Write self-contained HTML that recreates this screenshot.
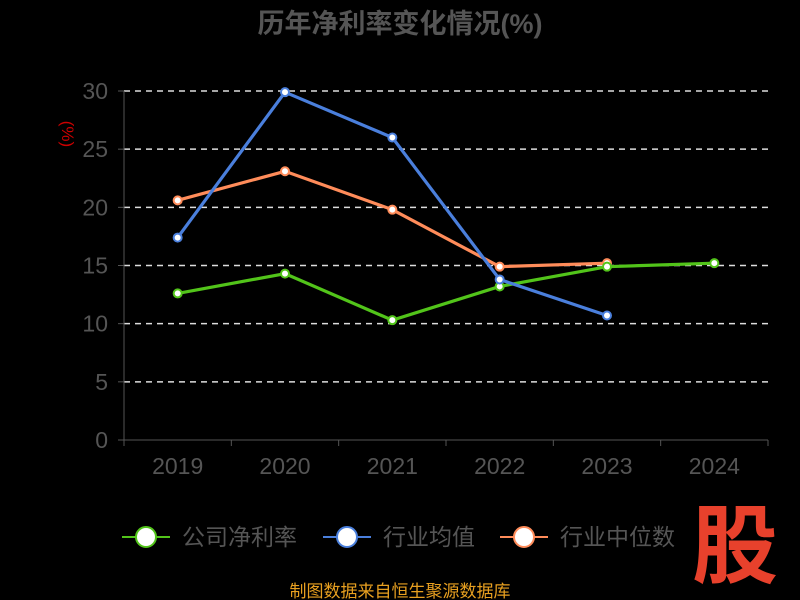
<!DOCTYPE html>
<html><head><meta charset="utf-8"><style>
body{margin:0;background:#000;}
svg{display:block;font-family:"Liberation Sans","Noto Sans CJK SC",sans-serif;}
</style></head><body>
<svg id="c" width="800" height="600">
<text x="400" y="33" text-anchor="middle" font-size="27" font-weight="bold" fill="#555">历年净利率变化情况(%)</text>
<text x="70" y="126" font-size="17" fill="#c00" transform="rotate(90 62 126)" text-anchor="middle">(%)</text>
<g id="grid"></g><g id="axes"></g><g id="series"></g>
<g>
<g><line x1="122" y1="537" x2="170" y2="537" stroke="#52c41a" stroke-width="2"/><circle cx="146" cy="537" r="10" fill="#fff" stroke="#52c41a" stroke-width="2"/><text x="182" y="545" font-size="23" fill="#555">公司净利率</text></g>
<g><line x1="323" y1="537" x2="371" y2="537" stroke="#4a7fdc" stroke-width="2"/><circle cx="347" cy="537" r="10" fill="#fff" stroke="#4a7fdc" stroke-width="2"/><text x="383" y="545" font-size="23" fill="#555">行业均值</text></g>
<g><line x1="500" y1="537" x2="548" y2="537" stroke="#ff8c5a" stroke-width="2"/><circle cx="524" cy="537" r="10" fill="#fff" stroke="#ff8c5a" stroke-width="2"/><text x="560" y="545" font-size="23" fill="#555">行业中位数</text></g>
</g>
<text x="735" y="576" text-anchor="middle" font-size="86" font-weight="bold" fill="#e8412c">股</text>
<text x="400" y="597" text-anchor="middle" font-size="17" fill="#e8a020">制图数据来自恒生聚源数据库</text>
</svg>
<script>
const years=["2019","2020","2021","2022","2023","2024"];
const company=[12.6,14.3,10.3,13.2,14.9,15.2];
const indAvg=[17.4,29.9,26.0,13.8,10.7,null];
const indMedian=[20.6,23.1,19.8,14.9,15.2,null];
const yTicks=[0,5,10,15,20,25,30];
const NS="http://www.w3.org/2000/svg";
const x0=124,x1=768,step=(x1-x0)/years.length;
const X=i=>x0+step*(i+0.5);
const Y=v=>440-v*(349/30);
function mk(tag,attrs,parent){const e=document.createElementNS(NS,tag);for(const k in attrs)e.setAttribute(k,attrs[k]);parent.appendChild(e);return e;}
const grid=document.getElementById('grid'),axes=document.getElementById('axes'),ser=document.getElementById('series');
yTicks.forEach(t=>{
 if(t>0){const l=mk('line',{x1:x0,x2:x1,y1:Y(t),y2:Y(t),stroke:'#ddd','stroke-dasharray':'6,5','stroke-width':1.5},grid);
 
 }
 const tx=mk('text',{x:108,y:Y(t)+8,'text-anchor':'end','font-size':23,fill:'#555'},axes);tx.textContent=t;
 
 
 mk('line',{x1:x0-6,x2:x0,y1:Y(t),y2:Y(t),stroke:'#555'},axes);
});
mk('line',{x1:x0,x2:x0,y1:Y(30),y2:440,stroke:'#555'},axes);
mk('line',{x1:x0,x2:x1,y1:440,y2:440,stroke:'#555'},axes);
years.forEach((y,i)=>{
 mk('line',{x1:x0+step*i,x2:x0+step*i,y1:440,y2:446,stroke:'#555'},axes);
 const tx=mk('text',{x:X(i),y:474,'text-anchor':'middle','font-size':23,fill:'#555'},axes);tx.textContent=y;
 
 
});
mk('line',{x1:x1,x2:x1,y1:440,y2:446,stroke:'#555'},axes);
function draw(arr,color,name){
 const g=mk('g',{},ser);
 
 
 const pts=arr.map((v,i)=>v==null?null:[X(i),Y(v)]).filter(p=>p);
 mk('polyline',{points:pts.map(p=>p.join(',')).join(' '),fill:'none',stroke:color,'stroke-width':3.2},g);
 pts.forEach((p,i)=>{const c=mk('circle',{cx:p[0],cy:p[1],r:4,fill:'#fff',stroke:color,'stroke-width':2},g);
 
 });
}
draw(indMedian,'#ff8c5a','industry-median-line');
draw(company,'#52c41a','company-line');
draw(indAvg,'#4a7fdc','industry-avg-line');
</script>
</body></html>
